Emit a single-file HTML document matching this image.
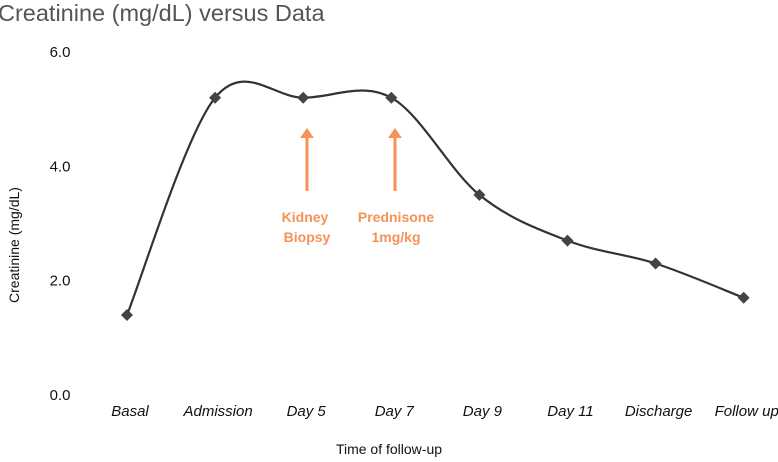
<!DOCTYPE html>
<html><head><meta charset="utf-8"><style>
html,body{margin:0;padding:0;background:#fff;}
svg{display:block;font-family:"Liberation Sans",sans-serif;}
</style></head><body>
<svg id="chart" width="778" height="462" viewBox="0 0 778 462">
<text x="-2" y="21" font-size="23.5" fill="#555">Creatinine (mg/dL) versus Data</text>
<g id="yticks"></g>
<g id="xticks"></g>
<text transform="translate(19,245) rotate(-90)" text-anchor="middle" font-size="14" fill="#111">Creatinine (mg/dL)</text>
<text x="389" y="454" text-anchor="middle" font-size="14" fill="#111">Time of follow-up</text>
<path id="line" fill="none" stroke="#333" stroke-width="2.2"></path>
<g id="marks"></g>
<g fill="#f79256">
<line x1="307" y1="191" x2="307" y2="136" stroke="#f79256" stroke-width="3"/>
<polygon points="300,138 314,138 307,128"/>
<text x="305" y="222" text-anchor="middle" font-size="14" font-weight="bold">Kidney</text>
<text x="307" y="242" text-anchor="middle" font-size="14" font-weight="bold">Biopsy</text>
</g>
<g fill="#f79256">
<line x1="395" y1="191" x2="395" y2="136" stroke="#f79256" stroke-width="3"/>
<polygon points="388,138 402,138 395,128"/>
<text x="396" y="222" text-anchor="middle" font-size="14" font-weight="bold">Prednisone</text>
<text x="396" y="242" text-anchor="middle" font-size="14" font-weight="bold">1mg/kg</text>
</g>
</svg>
<script>
const categories=["Basal","Admission","Day 5","Day 7","Day 9","Day 11","Discharge","Follow up"];
const values=[1.4,5.2,5.2,5.2,3.5,2.7,2.3,1.7];
const yTicks=[0,2,4,6];
const yTickLabels=["0.0","2.0","4.0","6.0"];
const NS="http://www.w3.org/2000/svg";
const xs=i=>127+i*88.1;
const ys=v=>395-v*57.17;
const yt=document.getElementById('yticks');
yTicks.forEach((t,i)=>{const e=document.createElementNS(NS,'text');


e.setAttribute('x',60);e.setAttribute('y',ys(t)+5);e.setAttribute('text-anchor','middle');e.setAttribute('font-size','15');e.setAttribute('fill','#111');e.textContent=yTickLabels[i];yt.appendChild(e);});
const xt=document.getElementById('xticks');
categories.forEach((c,i)=>{const e=document.createElementNS(NS,'text');


e.setAttribute('x',xs(i)+3);e.setAttribute('y',416);e.setAttribute('text-anchor','middle');e.setAttribute('font-size','15');e.setAttribute('font-style','italic');e.setAttribute('fill','#111');e.textContent=c;xt.appendChild(e);});
const pts=values.map((v,i)=>[xs(i),ys(v)]);
let d='M'+pts[0][0]+','+pts[0][1];
for(let i=0;i<pts.length-1;i++){const p0=pts[Math.max(0,i-1)],p1=pts[i],p2=pts[i+1],p3=pts[Math.min(pts.length-1,i+2)];
const t=1/6;
d+=' C'+(p1[0]+(p2[0]-p0[0])*t)+','+(p1[1]+(p2[1]-p0[1])*t)+' '+(p2[0]-(p3[0]-p1[0])*t)+','+(p2[1]-(p3[1]-p1[1])*t)+' '+p2[0]+','+p2[1];}
document.getElementById('line').setAttribute('d',d);
const mk=document.getElementById('marks');
pts.forEach(p=>{const e=document.createElementNS(NS,'polygon');


e.setAttribute('points',`${p[0]},${p[1]-6} ${p[0]+6},${p[1]} ${p[0]},${p[1]+6} ${p[0]-6},${p[1]}`);e.setAttribute('fill','#444');mk.appendChild(e);});
</script>
</body></html>
